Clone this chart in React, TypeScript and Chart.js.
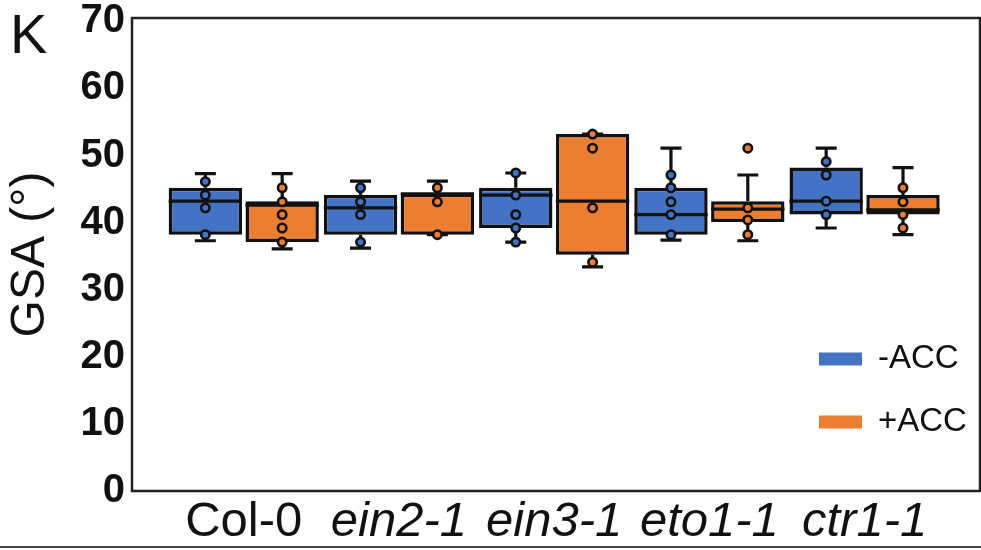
import React, { useEffect, useRef } from 'react';
import { Chart, registerables } from 'chart.js';

Chart.register(...registerables);

// ---- data ----
const categories = ['Col-0', 'ein2-1', 'ein3-1', 'eto1-1', 'ctr1-1'];
const yTicks = [0, 10, 20, 30, 40, 50, 60, 70];
const seriesLabels = ['-ACC', '+ACC'];
const seriesColors = ['#4472C4', '#ED7D31'];

const minusLow = [37.3, 36.2, 37.1, 37.4, 39.2];
const minusQ1 = [38.2, 38.2, 39.2, 38.2, 41.2];
const minusMedian = [43.2, 42.2, 44.1, 41.2, 43.2];
const minusQ3 = [45.2, 44.1, 45.2, 45.2, 48.2];
const minusHigh = [47.3, 46.2, 47.4, 51.1, 51.1];
const minusPoints = [
  [46.1, 44.1, 42.2, 38.2],
  [45.2, 43.1, 41.2, 37.1],
  [47.4, 44.1, 41.2, 39.2, 37.1],
  [47.1, 45.2, 43.1, 41.2, 38.2],
  [49.1, 47.1, 43.2, 41.2],
];

const plusLow = [36.1, 38.2, 33.4, 37.3, 38.2];
const plusQ1 = [37.1, 38.2, 35.2, 40.1, 41.2];
const plusMedian = [42.6, 44.3, 43.2, 42.0, 41.9];
const plusQ3 = [43.2, 44.3, 53.2, 43.2, 44.1];
const plusHigh = [47.3, 46.2, 53.2, 47.1, 48.2];
const plusPoints = [
  [45.2, 43.1, 41.2, 39.2, 37.1],
  [45.2, 43.1, 38.2],
  [53.2, 51.1, 42.2, 34.1],
  [42.2, 40.4, 38.2],
  [45.2, 43.1, 41.2, 39.2],
];
const plusOutliers = [[], [], [], [51.1], []];

// ---- layout / style constants ----
const FONT = '"Liberation Sans", Arial, sans-serif';
const CAT_PCT = 0.99;
const BAR_PCT = 0.955;
const GROUP_OFFSET = CAT_PCT / 4;
const CAP_W = 21;

const stats = [
  { low: minusLow, q1: minusQ1, med: minusMedian, q3: minusQ3, high: minusHigh },
  { low: plusLow, q1: plusQ1, med: plusMedian, q3: plusQ3, high: plusHigh },
];

const zeroPad = (scale: any) => {
  scale.paddingTop = 0;
  scale.paddingBottom = 0;
  scale.paddingLeft = 0;
  scale.paddingRight = 0;
};

const boxPlugin = {
  id: 'boxParts',
  beforeDraw(chart: any) {
    const { ctx, width, height } = chart;
    ctx.save();
    ctx.fillStyle = '#fff';
    ctx.fillRect(0, 0, width, height);
    ctx.restore();
  },
  afterDatasetDraw(chart: any, args: any) {
    const k = args.index;
    if (k > 1) return;
    const meta = chart.getDatasetMeta(k);
    const ys = chart.scales.y;
    const s = stats[k];
    const ctx = chart.ctx;
    ctx.save();
    ctx.strokeStyle = '#111';
    ctx.lineWidth = 3.2;
    ctx.lineCap = 'butt';
    meta.data.forEach((bar: any, i: number) => {
      const x = bar.x;
      const w = bar.width;
      const pm = ys.getPixelForValue(s.med[i]);
      const p1 = ys.getPixelForValue(s.q1[i]);
      const p3 = ys.getPixelForValue(s.q3[i]);
      const pl = ys.getPixelForValue(s.low[i]);
      const ph = ys.getPixelForValue(s.high[i]);
      ctx.beginPath();
      ctx.moveTo(x - w / 2, pm);
      ctx.lineTo(x + w / 2, pm);
      ctx.moveTo(x, p3);
      ctx.lineTo(x, ph);
      ctx.moveTo(x - CAP_W / 2, ph);
      ctx.lineTo(x + CAP_W / 2, ph);
      ctx.moveTo(x, p1);
      ctx.lineTo(x, pl);
      ctx.moveTo(x - CAP_W / 2, pl);
      ctx.lineTo(x + CAP_W / 2, pl);
      ctx.stroke();
    });
    ctx.restore();
  },
  afterDraw(chart: any) {
    const { ctx, chartArea: a } = chart;
    ctx.save();
    ctx.strokeStyle = '#222';
    ctx.lineWidth = 2.5;
    ctx.strokeRect(a.left, a.top, a.right - a.left - 1, a.bottom - a.top);
    ctx.fillStyle = '#111';
    ctx.font = `56px ${FONT}`;
    ctx.textBaseline = 'alphabetic';
    ctx.textAlign = 'left';
    ctx.fillText('K', 10, 53);
    ctx.font = `33px ${FONT}`;
    ctx.textBaseline = 'middle';
    seriesLabels.forEach((lab, k) => {
      const y = a.top + 341 + k * 63;
      ctx.fillStyle = seriesColors[k];
      ctx.fillRect(a.right - 162, y - 6.5, 43, 13);
      ctx.fillStyle = '#111';
      ctx.fillText(lab, a.right - 103, y);
    });
    ctx.strokeStyle = '#444';
    ctx.lineWidth = 2;
    ctx.beginPath();
    ctx.moveTo(0, 547);
    ctx.lineTo(chart.width, 547);
    ctx.stroke();
    ctx.restore();
  },
};

export default function App() {
  const ref = useRef<HTMLCanvasElement>(null);
  useEffect(() => {
    const canvas = ref.current;
    if (!canvas) return;
    const barSets = [0, 1].map((k) => {
      const s = stats[k];
      return {
        type: 'bar' as const,
        label: seriesLabels[k],
        data: categories.map((_, i) => ({ x: i, y: [s.q1[i], s.q3[i]] })),
        backgroundColor: seriesColors[k],
        borderColor: '#111',
        borderWidth: 3.5,
        borderSkipped: false,
        categoryPercentage: CAT_PCT,
        barPercentage: BAR_PCT,
        order: 2,
      };
    });
    const pointSets = [
      { pts: minusPoints, k: 0, off: -GROUP_OFFSET },
      { pts: plusPoints, k: 1, off: GROUP_OFFSET },
      { pts: plusOutliers, k: 1, off: GROUP_OFFSET },
    ].map(({ pts, k, off }) => ({
      type: 'scatter' as const,
      label: seriesLabels[k] + ' points',
      data: pts.flatMap((vals, i) => vals.map((v) => ({ x: i + off, y: v }))),
      backgroundColor: seriesColors[k],
      borderColor: '#111',
      borderWidth: 2.6,
      pointRadius: 4.2,
      order: 0,
    }));

    const chart = new Chart(canvas, {
      type: 'bar',
      data: { datasets: [...barSets, ...pointSets] as any },
      options: {
        responsive: false,
        animation: false,
        devicePixelRatio: 1,
        events: [],
        layout: { autoPadding: false, padding: { top: 18, right: 0, left: 0, bottom: 0 } },
        plugins: { legend: { display: false }, tooltip: { enabled: false } },
        scales: {
          x: {
            type: 'linear',
            min: -0.72,
            max: 4.75,
            offset: false,
            grid: { display: false, drawTicks: false },
            border: { display: false },
            afterBuildTicks: (scale: any) => {
              scale.ticks = categories.map((_, i) => ({ value: i }));
            },
            afterFit: (scale: any) => {
              scale.height = 59;
              zeroPad(scale);
            },
            ticks: {
              padding: 2,
              color: '#111',
              autoSkip: false,
              maxRotation: 0,
              callback: (v: any) => categories[v] ?? '',
              font: (ctx: any) => ({
                family: FONT,
                size: 49,
                style: ctx.tick && ctx.tick.value === 0 ? 'normal' : 'italic',
              }),
            },
          },
          y: {
            min: 0,
            max: 70.5,
            grid: { display: false, drawTicks: false },
            border: { display: false },
            afterBuildTicks: (scale: any) => {
              scale.ticks = yTicks.map((v) => ({ value: v }));
            },
            afterFit: (scale: any) => {
              scale.width = 132;
              zeroPad(scale);
            },
            ticks: {
              padding: 7,
              color: '#111',
              callback: (v: any) => String(v),
              font: { family: FONT, size: 40, weight: 'bold' },
            },
            title: {
              display: true,
              text: 'GSA (°)',
              color: '#111',
              padding: { top: 2, bottom: 0 },
              font: { family: FONT, size: 48 },
            },
          },
        },
      } as any,
      plugins: [boxPlugin],
    });
    return () => chart.destroy();
  }, []);

  return (
    <div style={{ position: 'absolute', left: 0, top: 0, width: 981, height: 550, background: '#fff' }}>
      <canvas ref={ref} width={981} height={550} style={{ display: 'block', width: 981, height: 550 }} />
    </div>
  );
}
